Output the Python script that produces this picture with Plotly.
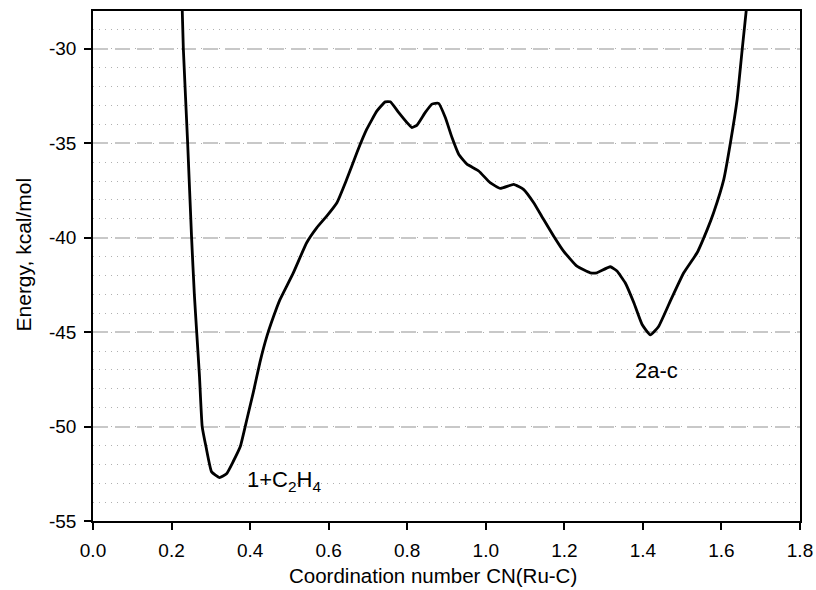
import plotly.graph_objects as go

cn = [0.227, 0.230, 0.241, 0.251, 0.258, 0.264, 0.271, 0.278, 0.288, 0.302,
      0.322, 0.340, 0.357, 0.375, 0.392, 0.408, 0.425, 0.443, 0.468, 0.476,
      0.510, 0.544, 0.570, 0.595, 0.621, 0.646, 0.672, 0.697, 0.723, 0.744,
      0.757, 0.778, 0.799, 0.812, 0.825, 0.846, 0.863, 0.880, 0.897, 0.914,
      0.931, 0.952, 0.982, 1.011, 1.037, 1.071, 1.096, 1.122, 1.147, 1.173,
      1.198, 1.232, 1.266, 1.283, 1.317, 1.334, 1.355, 1.377, 1.398, 1.419,
      1.440, 1.470, 1.504, 1.538, 1.564, 1.580, 1.606, 1.623, 1.640, 1.653,
      1.664]
energy = [-27.8, -30.0, -35.0, -40.0, -43.0, -45.0, -47.3, -50.0, -51.1, -52.4,
          -52.7, -52.5, -51.85, -51.06, -49.6, -48.2, -46.6, -45.2, -43.7, -43.28,
          -41.86, -40.27, -39.47, -38.86, -38.15, -36.91, -35.49, -34.26, -33.29, -32.81,
          -32.81, -33.37, -33.9, -34.17, -34.04, -33.37, -32.93, -32.89, -33.64, -34.70,
          -35.58, -36.11, -36.47, -37.09, -37.39, -37.18, -37.44, -38.15, -39.03, -39.92,
          -40.71, -41.51, -41.86, -41.86, -41.54, -41.77, -42.39, -43.45, -44.6, -45.15,
          -44.7, -43.35, -41.86, -40.8, -39.56, -38.68, -36.91, -34.96, -32.67, -30.0,
          -27.8]

x_ticks = [0.0, 0.2, 0.4, 0.6, 0.8, 1.0, 1.2, 1.4, 1.6, 1.8]
y_ticks = [-55, -50, -45, -40, -35, -30]
labels = ["1+C<sub>2</sub>H<sub>4</sub>", "2a-c"]
label_x = [0.388, 1.376]
label_y = [-52.88, -47.04]
x_title = "Coordination number CN(Ru-C)"
y_title = "Energy, kcal/mol"

font_family = "Liberation Sans, Arial, sans-serif"

fig = go.Figure()
fig.add_trace(go.Scatter(x=cn, y=energy, mode="lines",
                         line=dict(color="black", width=2.8, shape="spline", smoothing=0.4),
                         showlegend=False, hoverinfo="skip"))

for t, lx, ly in zip(labels, label_x, label_y):
    fig.add_annotation(x=lx, y=ly, text=t, showarrow=False, xanchor="left",
                       yanchor="middle", font=dict(size=22, color="black", family=font_family))

# axis titles placed as annotations (slightly off-centre in the reference)
fig.add_annotation(x=0.866, y=0, xref="x", yref="paper", yshift=-54,
                   text=x_title, showarrow=False, xanchor="center", yanchor="middle",
                   font=dict(size=20.5, color="black", family=font_family))
fig.add_annotation(x=-0.099, y=-40.89, xref="paper", yref="y",
                   text=y_title, showarrow=False, textangle=-90,
                   xanchor="center", yanchor="middle",
                   font=dict(size=21, color="black", family=font_family))

fig.update_layout(
    width=816, height=590, autosize=False,
    margin=dict(l=93, r=16, t=11, b=69),
    paper_bgcolor="white", plot_bgcolor="white",
    font=dict(family=font_family, color="black", size=19),
    xaxis=dict(range=[0, 1.8], tickvals=x_ticks,
               ticktext=[f"{v:.1f}" for v in x_ticks],
               showgrid=False, zeroline=False, automargin=False,
               showline=True, linecolor="black", linewidth=1.5, mirror=True,
               ticks="outside", ticklen=7, tickcolor="black", tickwidth=1.5,
               tickfont=dict(size=19), ticklabelstandoff=4),
    yaxis=dict(range=[-55, -28], tickvals=y_ticks,
               ticktext=[str(v) for v in y_ticks],
               showgrid=True, gridcolor="#c8c8c8", gridwidth=2, griddash="15px,7px",
               zeroline=False, automargin=False,
               showline=True, linecolor="black", linewidth=1.5, mirror=True,
               ticks="outside", ticklen=7, tickcolor="black", tickwidth=1.5,
               tickfont=dict(size=19), ticklabelstandoff=4,
               minor=dict(dtick=1, showgrid=True, gridcolor="#b0b0b0", gridwidth=1.3,
                          griddash="1px,5px", ticks="")),
)

fig.write_html(
    "out.html",
    config={"displayModeBar": False, "responsive": False},
    post_script="document.body.style.margin='0px';document.body.style.overflow='hidden';",
)
